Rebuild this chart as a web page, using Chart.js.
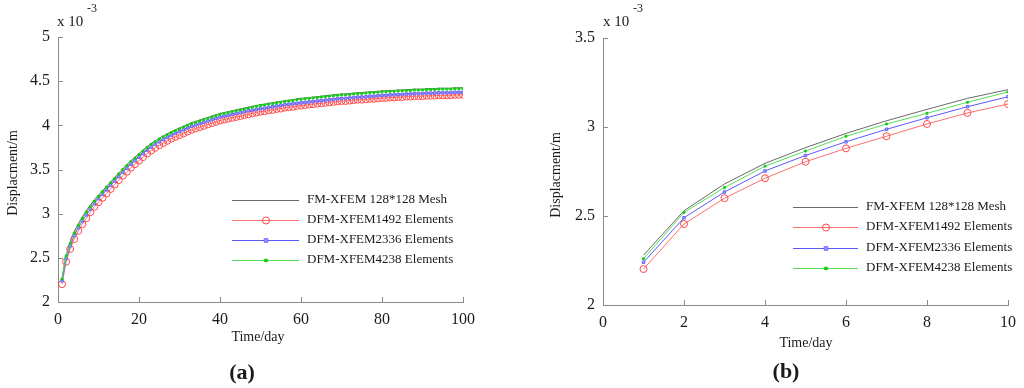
<!DOCTYPE html>
<html>
<head>
<meta charset="utf-8">
<script src="https://cdn.jsdelivr.net/npm/chart.js@4.4.1/dist/chart.umd.min.js"></script>
<style>
  body { margin: 0; background: #fff; }
  #wrap { position: relative; width: 1024px; height: 388px; }
  canvas { position: absolute; top: 0; }
</style>
</head>
<body>
<div id="wrap">
  <canvas id="chartA" width="512" height="388" style="left:0"></canvas>
  <canvas id="chartB" width="512" height="388" style="left:512px"></canvas>
</div>
<script>
// time in days
const days = [
  1,2,3,4,5,6,7,8,9,10,11,12,13,14,15,16,17,18,19,20,
  21,22,23,24,25,26,27,28,29,30,31,32,33,34,35,36,37,38,39,40,
  41,42,43,44,45,46,47,48,49,50,51,52,53,54,55,56,57,58,59,60,
  61,62,63,64,65,66,67,68,69,70,71,72,73,74,75,76,77,78,79,80,
  81,82,83,84,85,86,87,88,89,90,91,92,93,94,95,96,97,98,99,100
];

// displacement, x 10^-3 m
const fmMesh128 = [
  2.28,2.53,2.68,2.796,2.884,2.964,3.035,3.099,3.161,3.21,
  3.26,3.31,3.36,3.41,3.46,3.51,3.555,3.60,3.64,3.68,
  3.72,3.76,3.795,3.825,3.855,3.88,3.905,3.93,3.95,3.97,
  3.99,4.01,4.03,4.045,4.06,4.075,4.09,4.105,4.12,4.135,
  4.145,4.155,4.165,4.175,4.185,4.195,4.205,4.215,4.225,4.235,
  4.24,4.25,4.255,4.265,4.27,4.28,4.285,4.29,4.30,4.305,
  4.31,4.315,4.32,4.325,4.33,4.335,4.34,4.345,4.35,4.355,
  4.355,4.36,4.365,4.37,4.37,4.375,4.38,4.38,4.385,4.39,
  4.39,4.395,4.395,4.40,4.40,4.405,4.405,4.41,4.41,4.41,
  4.415,4.415,4.415,4.42,4.42,4.42,4.42,4.425,4.425,4.425
];
const dfm1492 = [
  2.202,2.455,2.60,2.712,2.805,2.88,2.948,3.017,3.079,3.129,
  3.18,3.23,3.28,3.33,3.38,3.43,3.475,3.52,3.56,3.60,
  3.64,3.68,3.715,3.745,3.775,3.80,3.825,3.85,3.87,3.89,
  3.91,3.93,3.95,3.965,3.98,3.995,4.01,4.025,4.04,4.055,
  4.065,4.075,4.085,4.095,4.105,4.115,4.125,4.135,4.145,4.155,
  4.16,4.17,4.175,4.185,4.19,4.20,4.205,4.21,4.22,4.225,
  4.23,4.235,4.24,4.245,4.25,4.255,4.26,4.265,4.27,4.275,
  4.275,4.28,4.285,4.29,4.29,4.295,4.30,4.30,4.305,4.31,
  4.31,4.315,4.315,4.32,4.32,4.325,4.325,4.33,4.33,4.33,
  4.335,4.335,4.335,4.34,4.34,4.34,4.34,4.345,4.345,4.345
];
const dfm2336 = [
  2.24,2.49,2.635,2.753,2.84,2.917,2.987,3.052,3.114,3.17,
  3.22,3.27,3.32,3.37,3.42,3.47,3.515,3.56,3.60,3.64,
  3.68,3.72,3.755,3.785,3.815,3.84,3.865,3.89,3.91,3.93,
  3.95,3.97,3.99,4.005,4.02,4.035,4.05,4.065,4.08,4.095,
  4.105,4.115,4.125,4.135,4.145,4.155,4.165,4.17,4.18,4.19,
  4.195,4.205,4.21,4.22,4.225,4.235,4.24,4.245,4.25,4.255,
  4.26,4.265,4.27,4.275,4.28,4.285,4.29,4.295,4.30,4.305,
  4.305,4.31,4.315,4.32,4.32,4.325,4.33,4.33,4.335,4.34,
  4.34,4.345,4.345,4.35,4.35,4.355,4.355,4.36,4.36,4.36,
  4.365,4.365,4.365,4.37,4.37,4.37,4.37,4.375,4.375,4.375
];
const dfm4238 = [
  2.26,2.52,2.66,2.78,2.865,2.948,3.017,3.077,3.139,3.197,
  3.25,3.30,3.35,3.40,3.45,3.50,3.545,3.59,3.63,3.67,
  3.71,3.75,3.785,3.815,3.845,3.87,3.895,3.92,3.94,3.96,
  3.98,4.00,4.02,4.035,4.05,4.065,4.08,4.095,4.11,4.125,
  4.135,4.145,4.155,4.165,4.175,4.185,4.195,4.205,4.215,4.225,
  4.23,4.24,4.245,4.255,4.26,4.27,4.275,4.28,4.29,4.295,
  4.30,4.305,4.31,4.315,4.32,4.325,4.33,4.335,4.34,4.345,
  4.345,4.35,4.355,4.36,4.36,4.365,4.37,4.37,4.375,4.38,
  4.38,4.385,4.385,4.39,4.39,4.395,4.395,4.40,4.40,4.40,
  4.405,4.405,4.405,4.41,4.41,4.41,4.41,4.415,4.415,4.415
];

const seriesNames = [
  'FM-XFEM 128*128 Mesh',
  'DFM-XFEM1492 Elements',
  'DFM-XFEM2336 Elements',
  'DFM-XFEM4238 Elements'
];

const xTicksA = [0, 20, 40, 60, 80, 100];
const yTicksA = [2, 2.5, 3, 3.5, 4, 4.5, 5];
const xTicksB = [0, 2, 4, 6, 8, 10];
const yTicksB = [2, 2.5, 3, 3.5];

const SERIF = "'Liberation Serif', 'DejaVu Serif', serif";

function makeDatasets(n) {
  const pts = arr => days.slice(0, n).map((d, i) => ({x: d, y: arr[i]}));
  return [
    {
      label: seriesNames[0], data: pts(fmMesh128),
      borderColor: '#6a6a6a', borderWidth: 1, pointRadius: 0, order: 4
    },
    {
      label: seriesNames[1], data: pts(dfm1492),
      borderColor: '#ff7070', borderWidth: 1,
      pointStyle: 'circle', pointRadius: 3.5, pointBorderWidth: 1,
      pointBorderColor: '#ff4a4a', pointBackgroundColor: 'rgba(255,255,255,0)', order: 3
    },
    {
      label: seriesNames[2], data: pts(dfm2336),
      borderColor: '#5a5aff', borderWidth: 1,
      pointStyle: 'rect', pointRadius: 1.8, pointBorderWidth: 1,
      pointBorderColor: '#6a6aff', pointBackgroundColor: '#a0a0ff', order: 2
    },
    {
      label: seriesNames[3], data: pts(dfm4238),
      borderColor: '#55dd55', borderWidth: 1,
      pointStyle: 'rect', pointRadius: 1.3, pointBorderWidth: 1,
      pointBorderColor: '#11cc11', pointBackgroundColor: '#11cc11', order: 1
    }
  ];
}

function drawMark(ctx, ds, x, y) {
  if (!ds.pointRadius) return;
  const r = ds.pointRadius;
  ctx.save();
  ctx.lineWidth = 1;
  ctx.strokeStyle = ds.pointBorderColor;
  ctx.fillStyle = ds.pointBackgroundColor;
  ctx.beginPath();
  if (ds.pointStyle === 'circle') {
    ctx.arc(x, y, r, 0, Math.PI * 2);
  } else {
    ctx.rect(x - r, y - r, r * 2, r * 2);
  }
  ctx.fill();
  ctx.stroke();
  ctx.restore();
}

// axis texts, inward ticks, legend, panel letter
const decoPlugin = {
  id: 'deco',
  afterDraw(chart, args, o) {
    const ctx = chart.ctx;
    const xs = chart.scales.x, ys = chart.scales.y;
    ctx.save();

    // inward tick marks
    ctx.strokeStyle = '#8a8a8a';
    ctx.lineWidth = 1;
    ctx.beginPath();
    xs.ticks.forEach(t => {
      const px = Math.round(xs.getPixelForValue(t.value)) + 0.5;
      ctx.moveTo(px, xs.top);
      ctx.lineTo(px, xs.top - 5);
    });
    ys.ticks.forEach(t => {
      const py = Math.round(ys.getPixelForValue(t.value)) + 0.5;
      ctx.moveTo(ys.right, py);
      ctx.lineTo(ys.right + 5, py);
    });
    ctx.stroke();

    ctx.fillStyle = '#1a1a1a';
    ctx.textBaseline = 'middle';

    // exponent
    ctx.textAlign = 'left';
    ctx.font = '15px ' + SERIF;
    ctx.fillText('x 10', o.expX, 22);
    ctx.font = '12px ' + SERIF;
    ctx.fillText('-3', o.expX + 30, 9);

    // axis titles
    ctx.textAlign = 'center';
    ctx.font = '14px ' + SERIF;
    ctx.fillText('Time/day', o.xTitle[0], o.xTitle[1]);
    ctx.save();
    ctx.translate(o.yTitle[0], o.yTitle[1]);
    ctx.rotate(-Math.PI / 2);
    ctx.fillText('Displacment/m', 0, 0);
    ctx.restore();

    // panel letter
    ctx.font = 'bold 22px ' + SERIF;
    ctx.fillText(o.letter, o.letterPos[0], o.letterPos[1]);

    // legend
    const lg = o.legend;
    ctx.font = '13px ' + SERIF;
    ctx.textAlign = 'left';
    chart.data.datasets.forEach((ds, i) => {
      const y = lg.rows[i];
      ctx.strokeStyle = ds.borderColor;
      ctx.lineWidth = 1;
      ctx.beginPath();
      ctx.moveTo(lg.x0, Math.round(y) + 0.5);
      ctx.lineTo(lg.x1, Math.round(y) + 0.5);
      ctx.stroke();
      drawMark(ctx, ds, lg.mx, Math.round(y) + 0.5);
      ctx.fillStyle = '#1a1a1a';
      ctx.fillText(ds.label, lg.tx, y);
    });

    ctx.restore();
  }
};

function makeChart(id, n, xTicks, yTicks, padding, deco) {
  const tickFont = {family: SERIF, size: 16};
  return new Chart(document.getElementById(id).getContext('2d'), {
    type: 'line',
    data: {datasets: makeDatasets(n)},
    plugins: [decoPlugin],
    options: {
      responsive: false,
      animation: false,
      devicePixelRatio: 1,
      layout: {padding},
      plugins: {
        legend: {display: false},
        tooltip: {enabled: false},
        deco
      },
      scales: {
        x: {
          type: 'linear',
          min: xTicks[0], max: xTicks[xTicks.length - 1],
          afterBuildTicks: s => { s.ticks = xTicks.map(v => ({value: v})); },
          afterFit: s => { s.height = 30; },
          grid: {display: false, drawTicks: false},
          border: {display: true, color: '#8a8a8a', width: 1},
          ticks: {font: tickFont, color: '#1a1a1a', padding: 8, maxRotation: 0,
                  callback: v => String(v)}
        },
        y: {
          type: 'linear',
          min: yTicks[0], max: yTicks[yTicks.length - 1],
          afterBuildTicks: s => { s.ticks = yTicks.map(v => ({value: v})); },
          afterFit: s => { s.width = 50; },
          grid: {display: false, drawTicks: false},
          border: {display: true, color: '#8a8a8a', width: 1},
          ticks: {font: tickFont, color: '#1a1a1a', padding: 8,
                  callback: v => String(v)}
        }
      }
    }
  });
}

const chartA = makeChart('chartA', 100, xTicksA, yTicksA,
  {left: 8, right: 49, top: 37, bottom: 56},
  {
    expX: 57, xTitle: [258, 337], yTitle: [13, 173],
    letter: '(a)', letterPos: [242, 373],
    legend: {x0: 232, x1: 299, mx: 266, tx: 307, rows: [200, 219.5, 239.5, 259.5]}
  });

const chartB = makeChart('chartB', 10, xTicksB, yTicksB,
  {left: 41, right: 11, top: 38, bottom: 53},
  {
    expX: 91, xTitle: [294, 343], yTitle: [44, 175],
    letter: '(b)', letterPos: [274, 372],
    legend: {x0: 281, x1: 346, mx: 314, tx: 354, rows: [207, 227, 247.5, 267.5]}
  });
</script>
</body>
</html>
